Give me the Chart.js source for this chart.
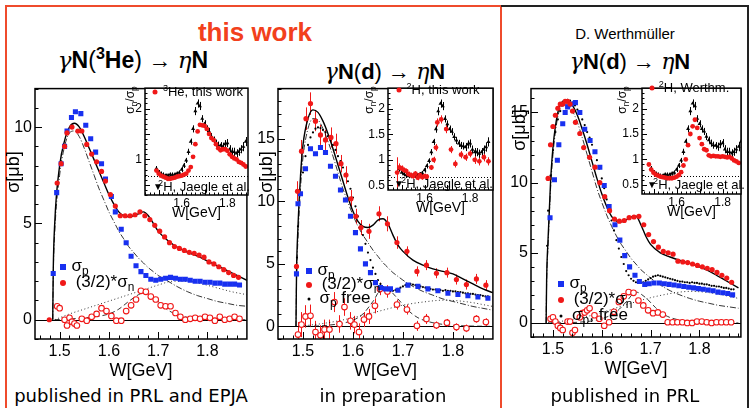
<!DOCTYPE html>
<html>
<head>
<meta charset="UTF-8">
<script src="https://cdn.jsdelivr.net/npm/chart.js"></script>
<style>
body { margin:0; width:751px; height:408px; background:#fff; position:relative; overflow:hidden; font-family:'Liberation Sans', Arial, sans-serif; color:#000; }
canvas { position:absolute; }
.t { position:absolute; white-space:nowrap; transform:translate(-50%,-50%); }
.gr { font-family:'DejaVu Serif', serif; font-style:italic; font-weight:normal; }
.b { font-weight:bold; }
.cap { font-family:'DejaVu Sans', sans-serif; font-size:18px; }
.yt { position:absolute; white-space:nowrap; transform:translate(-50%,-50%) rotate(-90deg); }
sub { font-size:0.7em; vertical-align:-0.3em; line-height:0; }
sup { font-size:0.7em; vertical-align:0.5em; line-height:0; }
.mk { position:absolute; transform:translate(-50%,-50%); }
</style>
</head>
<body>

<!-- frames -->
<div style="position:absolute;left:5px;top:5px;width:493px;height:420px;border:2px solid #ef4b2c;"></div>
<div style="position:absolute;left:501px;top:5px;width:246px;height:420px;border:2px solid #222;border-left:none;"></div>

<div class="t b" style="left:255px;top:32px;font-size:26px;color:#f2401c;">this work</div>
<div class="t" style="left:625px;top:33px;font-size:15px;">D. Werthmüller</div>

<div class="t" style="left:133px;top:60px;font-size:23px;"><span class="gr">γ</span><span class="b">N</span>(<sup class="b">3</sup><span class="b">He</span>) → <span class="gr">η</span><span class="b">N</span></div>
<div class="t" style="left:385px;top:72px;font-size:22px;"><span class="gr">γ</span><span class="b">N</span>(<span class="b">d</span>) → <span class="gr">η</span><span class="b">N</span></div>
<div class="t" style="left:630px;top:62px;font-size:22px;"><span class="gr">γ</span><span class="b">N</span>(<span class="b">d</span>) → <span class="gr">η</span><span class="b">N</span></div>

<div id="charts"></div>

<!-- axis titles -->
<div class="yt" style="left:13px;top:172px;font-size:18px;">σ[μb]</div>
<div class="yt" style="left:266px;top:172px;font-size:18px;">σ[μb]</div>
<div class="yt" style="left:519px;top:130px;font-size:18px;">σ[μb]</div>
<div class="yt" style="left:130px;top:100px;font-size:12px;">σ<sub>n</sub>/σ<sub>p</sub></div>
<div class="yt" style="left:369px;top:100px;font-size:12px;">σ<sub>n</sub>/σ<sub>p</sub></div>
<div class="yt" style="left:622px;top:100px;font-size:12px;">σ<sub>n</sub>/σ<sub>p</sub></div>

<!-- main legends -->
<div class="mk" style="left:63px;top:267px;width:6px;height:6px;background:#1830f0;"></div>
<div class="t" style="left:80px;top:266px;font-size:17px;">σ<sub>p</sub></div>
<div class="mk" style="left:63px;top:283px;width:6px;height:6px;border-radius:50%;background:#f01818;"></div>
<div class="t" style="left:105px;top:282px;font-size:17px;">(3/2)*σ<sub>n</sub></div>

<div class="mk" style="left:309px;top:271px;width:6px;height:6px;background:#1830f0;"></div>
<div class="t" style="left:326px;top:270px;font-size:17px;">σ<sub>p</sub></div>
<div class="mk" style="left:309px;top:285px;width:6px;height:6px;border-radius:50%;background:#f01818;"></div>
<div class="t" style="left:351px;top:284px;font-size:17px;">(3/2)*σ<sub>n</sub></div>
<div class="mk" style="left:309px;top:299px;width:3px;height:3px;border-radius:50%;background:#000;"></div>
<div class="t" style="left:345px;top:298px;font-size:17px;">σ<sub>p</sub> free</div>

<div class="mk" style="left:561px;top:284px;width:6px;height:6px;background:#1830f0;"></div>
<div class="t" style="left:578px;top:283px;font-size:17px;">σ<sub>p</sub></div>
<div class="mk" style="left:561px;top:300px;width:6px;height:6px;border-radius:50%;background:#f01818;"></div>
<div class="t" style="left:603px;top:299px;font-size:17px;">(3/2)*σ<sub>n</sub></div>
<div class="mk" style="left:561px;top:316px;width:3px;height:3px;border-radius:50%;background:#000;"></div>
<div class="t" style="left:600px;top:315px;font-size:17px;">σ<sub>p</sub>, free</div>

<!-- inset legends -->
<div class="mk" style="left:155px;top:92px;width:5px;height:5px;border-radius:50%;background:#f01818;"></div>
<div class="t" style="left:203px;top:91px;font-size:13px;"><sup>3</sup>He, this work</div>
<div class="t" style="left:158px;top:186px;font-size:10px;">▼</div>
<div class="t" style="left:204px;top:186px;font-size:13px;"><sup>2</sup>H, Jaegle et al.</div>

<div class="mk" style="left:399px;top:90px;width:5px;height:5px;border-radius:50%;background:#f01818;"></div>
<div class="t" style="left:443px;top:89px;font-size:13px;"><sup>2</sup>H, this work</div>
<div class="t" style="left:399px;top:183px;font-size:10px;">▼</div>
<div class="t" style="left:447px;top:183px;font-size:13px;"><sup>2</sup>H, Jaegle et al.</div>

<div class="mk" style="left:652px;top:88px;width:5px;height:5px;border-radius:50%;background:#f01818;"></div>
<div class="t" style="left:694px;top:87px;font-size:13px;"><sup>2</sup>H, Werthm.</div>
<div class="t" style="left:652px;top:184px;font-size:10px;">▼</div>
<div class="t" style="left:699px;top:184px;font-size:13px;"><sup>2</sup>H, Jaegle et al.</div>

<!-- captions -->
<div class="t cap" style="left:131px;top:395px;">published in PRL and EPJA</div>
<div class="t cap" style="left:383px;top:395px;">in preparation</div>
<div class="t cap" style="left:625px;top:395px;">published in PRL</div>

<script>
// ---------- data ----------
// gamma N(3He) -> eta N
var heWp = [1.487,1.494,1.503,1.510,1.515,1.524,1.532,1.543,1.553,1.563,1.573,1.585,1.593,1.605,1.613,1.625,1.635,1.645,1.655,1.665,1.675,1.685,1.695,1.705,1.715,1.725,1.735,1.745,1.755,1.765,1.775,1.785,1.795,1.805,1.815,1.825,1.835,1.845,1.855,1.865];
var heSigP = [2.4,6.6,8.1,9.0,9.8,10.5,10.8,10.7,10.1,9.4,8.7,8.1,7.3,6.4,5.6,4.7,4.0,3.3,2.8,2.5,2.3,2.1,2.05,2.1,2.15,2.2,2.15,2.1,2.1,2.05,2.0,2.0,1.95,1.95,1.9,1.9,1.85,1.85,1.85,1.8];
var heWn = [1.479,1.495,1.503,1.510,1.515,1.525,1.537,1.545,1.555,1.565,1.575,1.585,1.593,1.603,1.613,1.623,1.633,1.643,1.653,1.663,1.673,1.683,1.693,1.703,1.713,1.723,1.733,1.743,1.753,1.763,1.773,1.783,1.793,1.803,1.813,1.823,1.833,1.843,1.853,1.863];
var heSigN = [0,7.1,8.1,9.0,9.7,10.0,9.8,9.8,9.1,8.6,8.2,7.7,7.2,6.5,5.9,5.4,5.4,5.4,5.45,5.6,5.4,5.2,4.9,4.6,4.3,4.0,3.8,3.7,3.6,3.5,3.45,3.35,3.25,3.0,2.9,2.75,2.6,2.45,2.3,2.2];
var heWd = [1.495,1.500,1.510,1.515,1.520,1.525,1.530,1.535,1.545,1.555,1.565,1.575,1.585,1.595,1.605,1.615,1.625,1.635,1.645,1.655,1.665,1.675,1.685,1.695,1.705,1.715,1.725,1.735,1.745,1.755,1.765,1.775,1.785,1.795,1.805,1.815,1.825,1.835,1.845,1.855,1.865];
var heDiff = [0.7,0.6,0.0,-0.3,0.1,-0.1,-0.2,-0.3,0.05,-0.05,0.15,0.3,0.6,0.45,0.2,-0.05,-0.05,0.45,0.75,1.05,1.5,1.45,1.2,1.05,0.75,0.7,0.7,0.35,0.15,0.0,0.05,0.1,0.05,0.15,0.1,-0.05,0.15,0.0,0.05,0.15,0.05];
var heFitW = [1.486,1.487,1.49,1.50,1.51,1.52,1.53,1.54,1.55,1.56,1.57,1.58,1.59,1.60,1.61,1.62,1.63,1.64,1.65,1.66,1.67,1.68,1.69,1.70,1.72,1.74,1.76,1.78,1.80,1.82,1.84,1.86,1.88];
var heFit = [0,2.5,5.0,8.0,9.3,10.0,10.2,10.0,9.5,8.9,8.3,7.7,7.1,6.5,6.0,5.6,5.4,5.35,5.4,5.5,5.6,5.4,5.0,4.6,4.1,3.75,3.5,3.3,3.05,2.8,2.55,2.3,2.05];
var heS11 = [0,2.2,4.5,7.5,9.0,9.7,9.8,9.5,8.9,8.2,7.5,6.8,6.2,5.6,5.1,4.6,4.2,3.8,3.5,3.2,2.95,2.7,2.5,2.3,2.0,1.7,1.45,1.25,1.1,0.95,0.85,0.75,0.7];
var heBgW = [1.49,1.52,1.55,1.58,1.61,1.64,1.67,1.70,1.73,1.76,1.79,1.82,1.85,1.88];
var heBg = [0,0.3,0.55,0.8,1.05,1.3,1.55,1.8,2.0,2.0,1.85,1.65,1.45,1.3];
var heNarW = [1.49,1.55,1.60,1.62,1.64,1.66,1.67,1.68,1.70,1.72,1.74,1.77,1.80,1.88];
var heNar = [0,0.1,0.3,0.55,0.95,1.3,1.4,1.35,0.95,0.5,0.25,0.08,0.02,0];

// gamma N(d) -> eta N, this work
var dWp = [1.487,1.490,1.495,1.505,1.515,1.525,1.535,1.545,1.555,1.565,1.575,1.585,1.595,1.605,1.615,1.625,1.635,1.645,1.655,1.665,1.675,1.690,1.710,1.730,1.750,1.770,1.790,1.810,1.830,1.850,1.870];
var dSigP = [4.2,9.8,10.6,12.6,14.2,13.8,14.3,13.9,12.8,12.0,10.9,10.1,8.8,7.5,6.2,5.0,4.3,3.5,3.1,3.0,3.0,2.9,3.3,3.2,3.0,2.85,2.65,2.55,2.45,2.35,2.25];
var dWn = [1.487,1.489,1.497,1.506,1.515,1.525,1.535,1.545,1.556,1.566,1.576,1.586,1.596,1.606,1.616,1.632,1.652,1.669,1.688,1.708,1.728,1.747,1.767,1.788,1.807,1.827,1.847,1.866];
var dSigN = [4.8,10.8,14.0,16.6,17.8,16.4,15.3,14.9,15.1,14.6,13.0,12.1,10.2,8.8,7.9,7.6,9.0,8.2,6.7,6.0,4.4,4.9,4.25,4.3,3.75,3.35,3.8,3.3];
var dSigNErr = [0.5,0.8,0.9,0.9,0.9,0.8,0.8,0.8,0.8,0.8,0.7,0.7,0.7,0.6,0.6,0.6,0.6,0.6,0.5,0.4,0.4,0.4,0.4,0.4,0.4,0.4,0.4,0.4];
var dWd = [1.490,1.497,1.505,1.515,1.525,1.535,1.543,1.553,1.563,1.573,1.583,1.595,1.603,1.612,1.622,1.632,1.644,1.654,1.669,1.688,1.708,1.728,1.747,1.767,1.788,1.807,1.827,1.847,1.866];
var dDiff = [-0.65,0.15,0.8,0.85,-0.45,-0.7,-0.25,-0.25,1.95,0.2,1.55,0.45,0.15,-0.45,0.55,0.8,1.65,3.0,2.8,1.75,1.35,0.05,0.6,0.1,0.3,-0.05,-0.15,0.6,0.35];
var dDiffErr = [1.0,1.0,0.9,0.9,0.9,0.8,0.8,0.8,0.8,0.7,0.7,0.7,0.7,0.7,0.6,0.6,0.6,0.5,0.5,0.4,0.4,0.4,0.4,0.3,0.3,0.3,0.3,0.3,0.3];
var dFitW = [1.486,1.487,1.49,1.495,1.50,1.51,1.52,1.53,1.54,1.55,1.56,1.57,1.58,1.59,1.60,1.61,1.62,1.63,1.64,1.65,1.66,1.67,1.68,1.69,1.70,1.72,1.74,1.76,1.78,1.80,1.82,1.84,1.86,1.88];
var dFit = [0,4,8,12,14.5,16.6,17.3,17.1,16.4,15.4,14.2,12.9,11.6,10.3,9.2,8.4,8.0,7.9,8.1,8.5,8.6,8.2,7.3,6.5,6.0,5.3,4.9,4.6,4.4,4.2,3.8,3.4,3.0,2.7];
var dS11 = [0,3.5,7,11,13.5,15.8,16.6,16.5,15.8,14.8,13.6,12.3,11.0,9.9,8.9,8.0,7.3,6.7,6.1,5.6,5.1,4.7,4.3,4.0,3.7,3.2,2.8,2.5,2.2,2.0,1.8,1.6,1.45,1.3];
var dBgW = [1.49,1.55,1.60,1.65,1.70,1.75,1.78,1.81,1.84,1.86,1.88];
var dBg = [0,0.3,0.7,1.2,1.7,2.0,2.1,2.05,1.9,1.75,1.6];
var dNarW = [1.49,1.55,1.60,1.62,1.64,1.66,1.67,1.69,1.71,1.73,1.76,1.80,1.88];
var dNar = [0,0.1,0.5,1.0,2.0,3.1,3.0,2.2,1.3,0.7,0.3,0.1,0];

// free proton
var freeW = [1.488,1.49,1.495,1.50,1.505,1.51,1.515,1.52,1.525,1.53,1.535,1.54,1.545,1.55,1.555,1.56,1.565,1.57,1.575,1.58,1.585,1.59,1.595,1.60,1.605,1.61,1.615,1.62,1.625,1.63,1.635,1.64,1.645,1.65,1.655,1.66,1.665,1.67,1.675,1.68,1.685,1.69,1.695,1.70,1.705,1.71,1.715,1.72,1.725,1.73,1.735,1.74,1.745,1.75,1.755,1.76,1.765,1.77,1.775,1.78,1.785,1.79,1.795,1.80,1.805,1.81,1.815,1.82,1.825,1.83,1.835,1.84,1.845,1.85,1.855,1.86,1.865,1.87];
var freeSig = [5.5,8.0,10.5,12.3,13.6,14.5,15.1,15.5,15.8,15.9,15.85,15.7,15.5,15.2,14.9,14.5,14.1,13.6,13.2,12.7,12.2,11.6,11.0,10.3,9.6,8.8,8.0,7.3,6.6,5.9,5.3,4.7,4.2,3.7,3.4,3.15,3.0,2.9,2.85,2.85,2.9,3.0,3.1,3.2,3.3,3.35,3.4,3.35,3.3,3.25,3.2,3.15,3.1,3.05,3.0,2.95,2.95,2.9,2.9,2.85,2.9,2.85,2.85,2.8,2.8,2.75,2.75,2.7,2.65,2.65,2.6,2.6,2.55,2.5,2.5,2.45,2.4,2.4];

// gamma N(d) -> eta N, Werthmueller
var wWp = [1.494,1.503,1.509,1.512,1.520,1.525,1.530,1.537,1.546,1.555,1.565,1.576,1.586,1.596,1.605,1.615,1.627,1.637,1.647,1.657,1.668,1.677,1.688,1.697,1.707,1.718,1.728,1.738,1.748,1.758,1.768,1.778,1.788,1.798,1.808,1.818,1.828,1.838,1.848,1.858,1.868];
var wSigP = [7.5,10.2,11.6,12.7,14.2,15.0,15.4,15.6,15.7,15.0,13.8,13.0,12.2,11.1,9.8,8.3,7.0,5.9,4.8,4.0,3.4,2.95,2.75,2.8,2.85,2.85,2.8,2.75,2.7,2.65,2.6,2.55,2.5,2.45,2.4,2.35,2.3,2.2,2.15,2.1,2.0];
var wWn = [1.490,1.495,1.500,1.505,1.510,1.515,1.520,1.525,1.530,1.535,1.540,1.546,1.555,1.563,1.575,1.586,1.596,1.606,1.616,1.626,1.636,1.646,1.656,1.666,1.676,1.686,1.696,1.706,1.716,1.726,1.736,1.746,1.756,1.766,1.776,1.786,1.796,1.806,1.816,1.826,1.836,1.846,1.856,1.866];
var wSigN = [10.3,12.7,14.0,14.8,15.3,15.6,15.6,15.8,15.8,15.6,15.1,14.3,13.5,12.5,11.8,11.1,10.0,9.0,8.0,7.4,7.25,7.3,7.5,7.55,7.6,7.0,6.3,5.8,5.4,5.1,5.0,4.9,4.4,4.35,4.3,4.2,4.1,4.0,3.9,3.8,3.6,3.4,3.2,2.9];
var wWd = [1.495,1.500,1.505,1.510,1.515,1.520,1.530,1.535,1.540,1.545,1.555,1.560,1.565,1.570,1.575,1.585,1.595,1.605,1.615,1.625,1.635,1.645,1.655,1.665,1.675,1.685,1.695,1.705,1.715,1.725,1.735,1.745,1.755,1.765,1.775,1.785,1.795,1.805,1.815,1.825,1.835,1.845,1.855,1.865];
var wDiff = [0.3,0.4,0.1,-0.2,-0.35,-0.5,0.1,0.1,-0.7,-0.5,0.4,0.7,0.75,0.9,1.05,0.55,0.3,-0.2,0.05,0.8,1.5,1.9,2.2,2.15,1.6,1.25,0.9,0.7,0.75,0.6,0.05,0.05,0.05,0.05,0.0,0.0,0.1,0.1,0.05,0.0,0.05,0.05,0.05,0.05];
var wFitW = [1.486,1.487,1.49,1.495,1.50,1.51,1.52,1.53,1.54,1.55,1.56,1.57,1.58,1.59,1.60,1.61,1.62,1.63,1.64,1.65,1.66,1.67,1.68,1.69,1.70,1.72,1.74,1.76,1.78,1.80,1.82,1.84,1.86,1.88];
var wFit = [0,3,6,10,12.5,15.0,15.8,15.9,15.5,14.8,13.8,12.7,11.5,10.3,9.2,8.3,7.6,7.25,7.2,7.35,7.55,7.6,7.0,6.2,5.6,5.0,4.7,4.45,4.25,4.0,3.7,3.3,2.9,2.5];
var wS11 = [0,2.8,5.5,9.5,12,14.7,15.5,15.6,15.1,14.3,13.2,12.0,10.8,9.6,8.6,7.7,6.9,6.2,5.6,5.1,4.6,4.2,3.8,3.5,3.2,2.7,2.3,2.0,1.75,1.55,1.4,1.25,1.15,1.05];
var wBgW = [1.49,1.55,1.60,1.65,1.70,1.75,1.78,1.81,1.84,1.86,1.88];
var wBg = [0,0.3,0.75,1.3,1.8,2.15,2.25,2.2,2.05,1.9,1.75];
var wNarW = [1.49,1.55,1.60,1.63,1.65,1.67,1.69,1.71,1.73,1.76,1.80,1.88];
var wNar = [0,0.05,0.3,0.8,1.5,2.2,1.8,1.1,0.55,0.2,0.05,0];

// ratio sigma_n / sigma_p (insets)
var jW = [1.49,1.50,1.51,1.52,1.53,1.54,1.55,1.56,1.57,1.58,1.59,1.60,1.61,1.62,1.63,1.64,1.65,1.66,1.67,1.68,1.69,1.70,1.71,1.72,1.73,1.74,1.75,1.76,1.77,1.78,1.79,1.80,1.81,1.82,1.83,1.84,1.85,1.86,1.87,1.88];
var jRatio = [0.82,0.75,0.72,0.70,0.68,0.68,0.70,0.70,0.70,0.72,0.74,0.80,0.88,0.98,1.15,1.35,1.6,1.95,2.1,2.05,1.8,1.7,1.6,1.55,1.45,1.38,1.32,1.28,1.27,1.25,1.3,1.32,1.2,1.15,1.15,1.12,1.15,1.2,1.25,1.35];
var jErr = [0.05,0.04,0.04,0.04,0.04,0.04,0.04,0.04,0.04,0.04,0.04,0.05,0.05,0.05,0.06,0.06,0.07,0.08,0.08,0.08,0.07,0.07,0.07,0.07,0.07,0.07,0.07,0.07,0.07,0.08,0.08,0.08,0.08,0.08,0.08,0.08,0.08,0.08,0.09,0.09];
var heRW = jW;
var heRatio = [0.78,0.72,0.68,0.66,0.64,0.62,0.62,0.63,0.64,0.66,0.67,0.68,0.70,0.72,0.78,0.85,1.05,1.3,1.55,1.68,1.67,1.66,1.6,1.5,1.42,1.38,1.3,1.22,1.18,1.2,1.2,1.17,1.1,1.05,1.02,1.0,0.95,0.93,0.9,0.86];
var dRW = [1.48,1.49,1.50,1.51,1.52,1.53,1.54,1.55,1.56,1.57,1.58,1.59,1.60,1.61,1.63,1.64,1.65,1.656,1.673,1.695,1.716,1.735,1.76,1.78,1.80,1.82,1.84,1.86,1.88];
var dRatio = [0.75,0.85,0.83,0.80,0.78,0.72,0.70,0.68,0.73,0.65,0.70,0.66,0.68,0.67,0.85,1.0,1.24,1.73,1.79,1.6,1.2,0.92,1.1,1.05,1.12,1.0,0.97,1.05,0.97];
var dRatioErr = [0.3,0.08,0.06,0.05,0.05,0.05,0.05,0.05,0.05,0.05,0.05,0.05,0.05,0.05,0.05,0.06,0.07,0.08,0.08,0.08,0.07,0.07,0.07,0.07,0.07,0.08,0.08,0.08,0.08];
var wRW = [1.48,1.49,1.50,1.51,1.52,1.53,1.54,1.55,1.56,1.57,1.58,1.59,1.60,1.61,1.62,1.63,1.64,1.65,1.66,1.67,1.68,1.69,1.70,1.71,1.72,1.73,1.74,1.75,1.76,1.77,1.78,1.79,1.80,1.81,1.82,1.83,1.84,1.85,1.86,1.87];
var wRatio = [0.9,0.8,0.74,0.7,0.68,0.66,0.65,0.64,0.63,0.63,0.63,0.64,0.66,0.69,0.75,0.88,1.0,1.28,1.5,1.65,1.78,1.62,1.42,1.3,1.2,1.18,1.08,1.06,1.07,1.06,1.06,1.05,1.06,1.05,1.04,1.05,1.02,0.98,0.96,0.93];
var ratioLine = 0.67;

var mainXTicks = [1.5, 1.6, 1.7, 1.8];
var insetXTicks = [1.6, 1.8];

// ---------- helpers ----------
var RED = '#f01818', BLUE = '#1830f0';
function pts(xs, ys) { return xs.map(function (x, i) { return {x: x, y: ys[i]}; }); }

var framePlugin = {
  id: 'frame',
  beforeDraw: function (chart, args, o) {
    var a = chart.chartArea, ctx = chart.ctx;
    if (o.fill) { ctx.save(); ctx.fillStyle = '#fff'; ctx.fillRect(a.left, a.top, a.right - a.left, a.bottom - a.top); ctx.restore(); }
  },
  beforeDatasetsDraw: function (chart, args, o) {
    var a = chart.chartArea, ctx = chart.ctx, x = chart.scales.x, y = chart.scales.y;
    ctx.save();
    ctx.beginPath(); ctx.rect(a.left, a.top, a.right - a.left, a.bottom - a.top); ctx.clip();
    (o.refs || []).forEach(function (r) {
      var py = Math.round(y.getPixelForValue(r.v)) + 0.5;
      ctx.strokeStyle = '#000'; ctx.lineWidth = r.w || 1; ctx.setLineDash(r.dash || []);
      ctx.beginPath(); ctx.moveTo(a.left, py); ctx.lineTo(a.right, py); ctx.stroke();
    });
    ctx.setLineDash([]);
    chart.data.datasets.forEach(function (ds) {
      if (!ds.errs) return;
      ctx.strokeStyle = ds.errColor || '#000'; ctx.lineWidth = 1;
      ds.data.forEach(function (p, j) {
        var px = Math.round(x.getPixelForValue(p.x)) + 0.5;
        ctx.beginPath();
        ctx.moveTo(px, y.getPixelForValue(p.y - ds.errs[j]));
        ctx.lineTo(px, y.getPixelForValue(p.y + ds.errs[j]));
        ctx.stroke();
      });
    });
    ctx.restore();
  },
  afterDraw: function (chart, args, o) {
    var a = chart.chartArea, ctx = chart.ctx, x = chart.scales.x, y = chart.scales.y;
    ctx.save();
    ctx.strokeStyle = '#000'; ctx.lineWidth = 1.5;
    ctx.strokeRect(a.left, a.top, a.right - a.left, a.bottom - a.top);
    ctx.lineWidth = 1;
    var L = o.tick || 6, v, p;
    for (v = Math.ceil(x.min / o.xMinor) * o.xMinor; v <= x.max; v += o.xMinor) {
      p = Math.round(x.getPixelForValue(v)) + 0.5;
      var major = Math.abs(v / o.xMajor - Math.round(v / o.xMajor)) < 1e-6;
      ctx.beginPath(); ctx.moveTo(p, a.bottom); ctx.lineTo(p, a.bottom - (major ? L : L / 2)); ctx.stroke();
    }
    for (v = Math.ceil(y.min / o.yMinor) * o.yMinor; v <= y.max; v += o.yMinor) {
      p = Math.round(y.getPixelForValue(v)) + 0.5;
      var majorY = Math.abs(v / o.yMajor - Math.round(v / o.yMajor)) < 1e-6;
      ctx.beginPath(); ctx.moveTo(a.left, p); ctx.lineTo(a.left + (majorY ? L : L / 2), p); ctx.stroke();
    }
    ctx.restore();
  }
};

function makeChart(box, area, ranges, tickSets, fonts, frame, datasets) {
  var c = document.createElement('canvas');
  c.width = box.w; c.height = box.h;
  c.style.left = box.left + 'px'; c.style.top = box.top + 'px';
  document.getElementById('charts').appendChild(c);
  var yW = area.l - box.left, xH = box.top + box.h - area.b;
  var padTop = area.t - box.top, padRight = box.left + box.w - area.r;
  return new Chart(c.getContext('2d'), {
    type: 'scatter',
    data: { datasets: datasets },
    plugins: [framePlugin],
    options: {
      responsive: false, animation: false, devicePixelRatio: 1,
      layout: { padding: { top: padTop, right: padRight, left: 0, bottom: 0 } },
      plugins: { legend: { display: false }, tooltip: { enabled: false }, frame: frame },
      scales: {
        x: {
          type: 'linear', min: ranges.x[0], max: ranges.x[1],
          afterBuildTicks: function (s) { s.ticks = tickSets.x.map(function (v) { return {value: v}; }); },
          afterFit: function (s) { s.height = xH; },
          grid: { display: false, drawTicks: false }, border: { display: false },
          ticks: { autoSkip: false, maxRotation: 0, color: '#000', padding: fonts.tickPad, font: { family: 'Liberation Sans', size: fonts.tick }, callback: function (v) { return String(v); } },
          title: { display: true, text: 'W[GeV]', color: '#000', padding: { top: 0, bottom: 0 }, font: { family: 'Liberation Sans', size: fonts.title } }
        },
        y: {
          type: 'linear', min: ranges.y[0], max: ranges.y[1],
          afterBuildTicks: function (s) { s.ticks = tickSets.y.map(function (v) { return {value: v}; }); },
          afterFit: function (s) { s.width = yW; },
          grid: { display: false, drawTicks: false }, border: { display: false },
          ticks: { autoSkip: false, color: '#000', padding: 3, font: { family: 'Liberation Sans', size: fonts.tick }, callback: function (v) { return String(v); } }
        }
      }
    }
  });
}

function curve(xs, ys, dash, w) {
  return { data: pts(xs, ys), showLine: true, pointRadius: 0, borderColor: '#000', borderWidth: w || 0.8, borderDash: dash, cubicInterpolationMode: 'monotone' };
}
function markers(xs, ys, style, color, r, fill, errs) {
  return { data: pts(xs, ys), showLine: false, pointStyle: style, pointRadius: r, borderColor: color,
           backgroundColor: fill || color, borderWidth: fill ? 1.1 : 0, errs: errs, errColor: color };
}

var mainFonts = { tick: 16, title: 18, tickPad: 3 };
var insetFonts = { tick: 12, title: 14, tickPad: 1 };

// ---------- panel 1: 3He ----------
makeChart({left: 0, top: 76, w: 252, h: 306}, {l: 35, t: 80, r: 249, b: 339},
  {x: [1.45, 1.88], y: [-1, 12]}, {x: mainXTicks, y: [0, 5, 10]}, mainFonts,
  {xMajor: 0.1, xMinor: 0.02, yMajor: 5, yMinor: 1, tick: 7, refs: [{v: 0, w: 1.2}]},
  [
    markers(heWn, heSigN, 'circle', RED, 2.6),
    markers(heWp, heSigP, 'rect', BLUE, 3.6),
    markers(heWd, heDiff, 'circle', RED, 2.8, '#fff'),
    curve(heFitW, heFit, [], 1.4),
    curve(heFitW, heS11, [6, 2, 1, 2]),
    curve(heBgW, heBg, [1, 2.5]),
    curve(heNarW, heNar, [5, 3])
  ]);
makeChart({left: 117, top: 78, w: 135, h: 144}, {l: 145, t: 80, r: 250, b: 195},
  {x: [1.44, 1.89], y: [0.3, 2.4]}, {x: insetXTicks, y: [1, 2]}, insetFonts,
  {fill: true, xMajor: 0.1, xMinor: 0.02, yMajor: 0.5, yMinor: 0.1, tick: 5, refs: [{v: ratioLine, dash: [1, 2]}]},
  [
    markers(heRW, heRatio, 'circle', RED, 2.4),
    markers(jW, jRatio, 'triangle', '#000', 2.3, null, jErr)
  ]);

// ---------- panel 2: d, this work ----------
makeChart({left: 250, top: 76, w: 248, h: 306}, {l: 278, t: 80, r: 495, b: 339},
  {x: [1.45, 1.88], y: [-1, 19]}, {x: mainXTicks, y: [0, 5, 10, 15]}, mainFonts,
  {xMajor: 0.1, xMinor: 0.02, yMajor: 5, yMinor: 1, tick: 7, refs: [{v: 0, w: 1.2}]},
  [
    markers(dWn, dSigN, 'circle', RED, 2.6, null, dSigNErr),
    markers(dWp, dSigP, 'rect', BLUE, 3.6),
    markers(freeW, freeSig, 'circle', '#000', 1.1),
    markers(dWd, dDiff, 'circle', RED, 2.8, '#fff', dDiffErr),
    curve(dFitW, dFit, [], 1.4),
    curve(dFitW, dS11, [6, 2, 1, 2]),
    curve(dBgW, dBg, [1, 2.5]),
    curve(dNarW, dNar, [5, 3])
  ]);
makeChart({left: 358, top: 78, w: 139, h: 139}, {l: 388, t: 80, r: 495, b: 190},
  {x: [1.44, 1.9], y: [0.41, 2.4]}, {x: insetXTicks, y: [0.5, 1, 1.5, 2]}, insetFonts,
  {fill: true, xMajor: 0.1, xMinor: 0.02, yMajor: 0.5, yMinor: 0.1, tick: 5, refs: [{v: ratioLine, dash: [1, 2]}]},
  [
    markers(dRW, dRatio, 'circle', RED, 2.4, null, dRatioErr),
    markers(jW, jRatio, 'triangle', '#000', 2.3, null, jErr)
  ]);

// ---------- panel 3: d, Werthmueller ----------
makeChart({left: 503, top: 76, w: 243, h: 304}, {l: 531, t: 80, r: 743, b: 337},
  {x: [1.455, 1.885], y: [-1, 16.7]}, {x: mainXTicks, y: [0, 5, 10, 15]}, mainFonts,
  {xMajor: 0.1, xMinor: 0.02, yMajor: 5, yMinor: 1, tick: 7, refs: [{v: 0, w: 1.2}]},
  [
    markers(wWn, wSigN, 'circle', RED, 2.6),
    markers(wWp, wSigP, 'rect', BLUE, 3.6),
    markers(freeW, freeSig, 'circle', '#000', 1.1),
    markers(wWd, wDiff, 'circle', RED, 2.8, '#fff'),
    curve(wFitW, wFit, [], 1.4),
    curve(wFitW, wS11, [6, 2, 1, 2]),
    curve(wBgW, wBg, [1, 2.5]),
    curve(wNarW, wNar, [5, 3])
  ]);
makeChart({left: 612, top: 78, w: 133, h: 143}, {l: 642, t: 80, r: 743, b: 194},
  {x: [1.45, 1.88], y: [0.32, 2.4]}, {x: insetXTicks, y: [0.5, 1, 1.5, 2]}, insetFonts,
  {fill: true, xMajor: 0.1, xMinor: 0.02, yMajor: 0.5, yMinor: 0.1, tick: 5, refs: [{v: ratioLine, dash: [1, 2]}]},
  [
    markers(wRW, wRatio, 'circle', RED, 2.4),
    markers(jW, jRatio, 'triangle', '#000', 2.3, null, jErr)
  ]);
</script>
</body>
</html>
